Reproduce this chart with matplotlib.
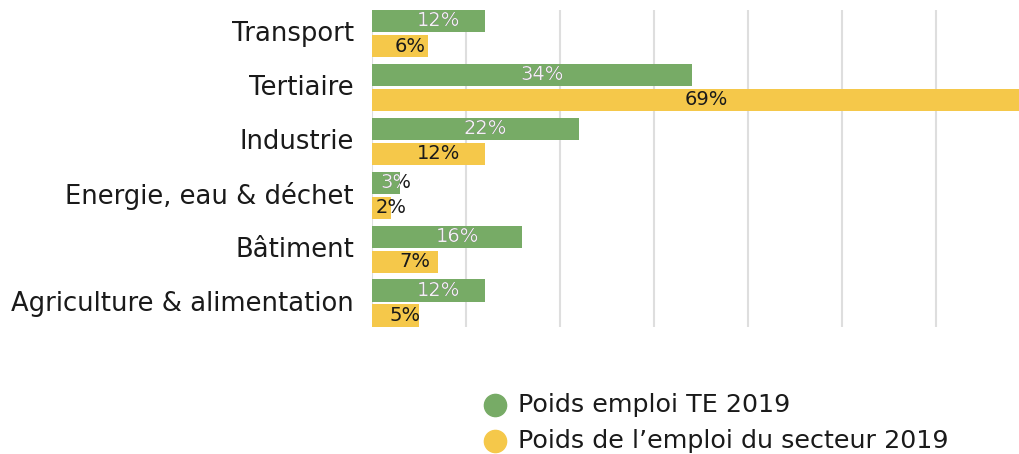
import matplotlib
matplotlib.use("Agg")
import matplotlib.pyplot as plt
import matplotlib.transforms as mtransforms
from matplotlib.lines import Line2D

plt.rcParams['font.family'] = ['DejaVu Sans']

categories = ["Transport", "Tertiaire", "Industrie", "Energie, eau & déchet",
              "Bâtiment", "Agriculture & alimentation"]
emploi_te = [12, 34, 22, 3, 16, 12]
emploi_secteur = [6, 69, 12, 2, 7, 5]
series_names = ["Poids emploi TE 2019", "Poids de l\u2019emploi du secteur 2019"]
colors = ["#77AB66", "#F5C84A"]

fig = plt.figure(figsize=(10.19, 4.54), dpi=100)
ax = fig.add_axes([372 / 1019, 1 - 327 / 454, 1 - 372 / 1019, 317 / 454])

ypos = list(range(len(categories)))
height = 0.41
offset = 0.232

for k, (vals, col) in enumerate(zip([emploi_te, emploi_secteur], colors)):
    sign = -1 if k == 0 else 1
    bars = ax.barh([y + sign * offset for y in ypos], vals, height=height,
                   color=col, zorder=2)
    for bar, v in zip(bars, vals):
        cx = bar.get_x() + bar.get_width() / 2
        cy = bar.get_y() + bar.get_height() / 2
        txt = f"{v}%"
        # dark text everywhere, light text only where it sits on a green bar
        ax.annotate(txt, (cx, cy), xytext=(7.2, 0), textcoords="offset points",
                    ha="center", va="center", fontsize=14, color="#1a1a1a", zorder=3)
        if k == 0:
            t = ax.annotate(txt, (cx, cy), xytext=(7.2, 0), textcoords="offset points",
                            ha="center", va="center", fontsize=14, color="white",
                            alpha=0.95, zorder=4)
            t.set_clip_path(bar)

ax.set_xlim(0, 68.8)
ax.set_ylim(len(categories) - 1 + 0.445, -0.436)
ax.set_xticks(range(0, 70, 10))
ax.set_xticklabels([])
ax.set_yticks(ypos)
ax.set_yticklabels(categories, fontsize=18.6, color="#1a1a1a")
ax.tick_params(axis="both", length=0)
ax.tick_params(axis="y", pad=13)
shift = mtransforms.ScaledTranslation(0, 2.5 / 100, fig.dpi_scale_trans)
for lbl in ax.get_yticklabels():
    lbl.set_transform(lbl.get_transform() + shift)
ax.grid(axis="x", color="#dedede", linewidth=1.5, zorder=0)
ax.set_axisbelow(True)
for s in ax.spines.values():
    s.set_visible(False)

# legend
leg_y = [1 - 405 / 454, 1 - 441 / 454]
for name, col, yy in zip(series_names, colors, leg_y):
    fig.add_artist(Line2D([495 / 1019], [yy], marker="o", markersize=16,
                          color=col, linestyle="none", transform=fig.transFigure))
    fig.text(518 / 1019, yy, name, fontsize=18.3, color="#1a1a1a",
             ha="left", va="center")

fig.savefig("out.png", dpi=100)
